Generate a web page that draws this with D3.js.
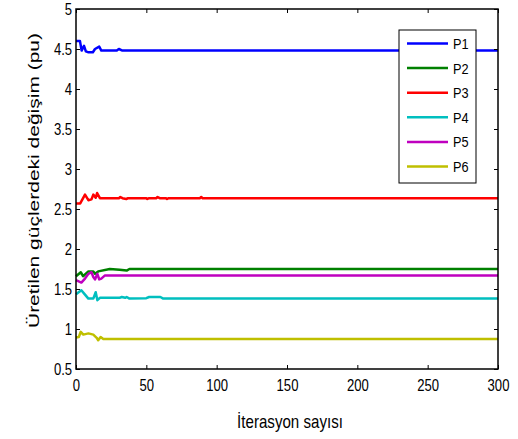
<!DOCTYPE html>
<html>
<head>
<meta charset="utf-8">
<script src="https://cdn.jsdelivr.net/npm/d3@7"></script>
<style>
  body { margin: 0; background: #fff; }
  text { font-family: "Liberation Sans", Arial, sans-serif; }
</style>
</head>
<body>
<div id="chart"></div>
<script>
// breakpoints: [iteration, value]
const p1 = [[0, 4.6], [2.8, 4.6], [4, 4.48], [5.7, 4.54], [7, 4.47], [8.5, 4.46], [12, 4.46], [13.5, 4.5], [16.5, 4.53], [18, 4.48], [29, 4.48], [30.5, 4.5], [33, 4.48], [300, 4.48]];
const p2 = [[0, 1.66], [3.4, 1.71], [5, 1.66], [8.8, 1.72], [12.3, 1.72], [13.5, 1.69], [15.8, 1.72], [24, 1.75], [31, 1.74], [36, 1.73], [38, 1.75], [300, 1.75]];
const p3 = [[0, 2.57], [3, 2.57], [6.4, 2.68], [8.8, 2.61], [11, 2.62], [12.3, 2.68], [14, 2.64], [15, 2.7], [17, 2.635], [30.5, 2.635], [31.5, 2.65], [33, 2.635], [35.8, 2.625], [37, 2.635], [50, 2.635], [50.5, 2.625], [52, 2.635], [57, 2.635], [58, 2.65], [59.5, 2.635], [64, 2.635], [64.5, 2.625], [66, 2.635], [88, 2.635], [89, 2.65], [90, 2.635], [300, 2.635]];
const p4 = [[0, 1.435], [3.8, 1.485], [6.4, 1.43], [8.8, 1.38], [12.3, 1.38], [14, 1.46], [15.2, 1.36], [17, 1.39], [31, 1.39], [32.5, 1.4], [35, 1.39], [36, 1.4], [38, 1.38], [50, 1.385], [52, 1.4], [60, 1.4], [62, 1.38], [300, 1.38]];
const p5 = [[0, 1.61], [3.8, 1.58], [6.4, 1.63], [8.8, 1.69], [11, 1.71], [12.3, 1.65], [13.5, 1.62], [15.2, 1.69], [16.5, 1.62], [18, 1.63], [20.6, 1.67], [300, 1.67]];
const p6 = [[0, 0.895], [2, 0.9], [3.4, 0.965], [5.2, 0.93], [8.8, 0.945], [12.3, 0.93], [14.7, 0.89], [15.8, 0.86], [17.5, 0.9], [19.4, 0.875], [300, 0.875]];

const seriesNames = ["P1", "P2", "P3", "P4", "P5", "P6"];
const seriesData = [p1, p2, p3, p4, p5, p6];
const seriesColors = ["#0000ff", "#008000", "#ff0000", "#00bfbf", "#bf00bf", "#bfbf00"];

const xTicks = [0, 50, 100, 150, 200, 250, 300];
const yTicks = [0.5, 1, 1.5, 2, 2.5, 3, 3.5, 4, 4.5, 5];

const W = 518, H = 439;
const margin = { top: 9, right: 20, bottom: 70, left: 76 };
const width = W - margin.left - margin.right;
const height = H - margin.top - margin.bottom;
const squeeze = 0.78; // the original figure's text looks horizontally compressed

const svg = d3.select("#chart").append("svg")
    .attr("width", W)
    .attr("height", H);

const g = svg.append("g")
    .attr("transform", `translate(${margin.left},${margin.top})`);

const x = d3.scaleLinear().domain([0, 300]).range([0, width]);
const y = d3.scaleLinear().domain([0.5, 5]).range([height, 0]);

// lines
const line = d3.line()
    .x(d => x(d[0]))
    .y(d => y(d[1]));

seriesData.forEach((s, i) => {
    g.append("path")
        .datum(s)
        .attr("fill", "none")
        .attr("stroke", seriesColors[i])
        .attr("stroke-width", 2.5)
        .attr("stroke-linejoin", "round")
        .attr("d", line);
});

// axes, ticks inward, mirrored on top / right
const tickLen = 4;
g.append("g")
    .attr("transform", `translate(0,${height})`)
    .call(d3.axisBottom(x).tickValues(xTicks).tickSizeInner(-tickLen).tickSizeOuter(0).tickPadding(10))
    .call(a => a.select(".domain").remove())
    .call(a => a.selectAll(".tick text").attr("transform", `scale(${squeeze},1)`));
g.append("g")
    .call(d3.axisTop(x).tickValues(xTicks).tickSizeInner(-tickLen).tickSizeOuter(0).tickFormat(""))
    .call(a => a.select(".domain").remove());
g.append("g")
    .call(d3.axisLeft(y).tickValues(yTicks).tickSizeInner(-tickLen).tickSizeOuter(0).tickPadding(5).tickFormat(d3.format("")))
    .call(a => a.select(".domain").remove())
    .call(a => a.selectAll(".tick text").attr("transform", `scale(${squeeze},1)`));
g.append("g")
    .attr("transform", `translate(${width},0)`)
    .call(d3.axisRight(y).tickValues(yTicks).tickSizeInner(-tickLen).tickSizeOuter(0).tickFormat(""))
    .call(a => a.select(".domain").remove());

g.selectAll(".tick text")
    .style("font-size", "16.8px")
    .attr("fill", "#000");
g.selectAll(".tick line").attr("stroke", "#000");

g.append("rect")
    .attr("width", width)
    .attr("height", height)
    .attr("fill", "none")
    .attr("stroke", "#000")
    .attr("stroke-width", 1.5);

// legend
const legend = g.append("g")
    .attr("transform", `translate(${399 - margin.left},${30 - margin.top})`);
legend.append("rect")
    .attr("width", 77)
    .attr("height", 153)
    .attr("fill", "#fff")
    .attr("stroke", "#000");
seriesNames.forEach((name, i) => {
    const yy = 13.5 + i * 24.6;
    legend.append("line")
        .attr("x1", 8).attr("x2", 49)
        .attr("y1", yy).attr("y2", yy)
        .attr("stroke", seriesColors[i])
        .attr("stroke-width", 2.5);
    legend.append("text")
        .attr("transform", `translate(54,${yy}) scale(0.85,1)`)
        .attr("dy", "0.36em")
        .style("font-size", "15px")
        .text(name);
});

// axis titles
svg.append("text")
    .attr("transform", `translate(${margin.left + width / 2 + 3},428) scale(0.84,1)`)
    .attr("text-anchor", "middle")
    .style("font-size", "18px")
    .text("İterasyon sayısı");

svg.append("text")
    .attr("transform", `translate(39,180.5) scale(0.7,1) rotate(-90)`)
    .attr("text-anchor", "middle")
    .style("font-size", "21px")
    .text("Üretilen güçlerdeki değişim (pu)");
</script>
</body>
</html>
